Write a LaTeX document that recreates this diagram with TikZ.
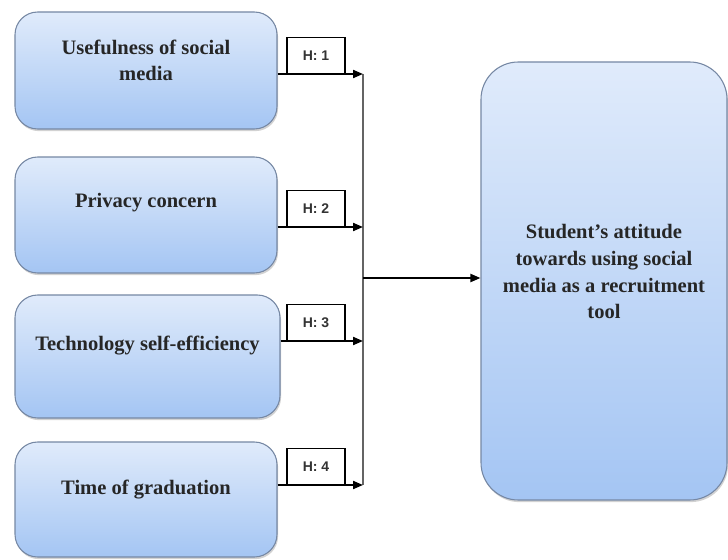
\documentclass[tikz,border=0pt]{standalone}
\usepackage{fontspec}
\setmainfont{Liberation Serif}
\newfontfamily\hfont{Liberation Sans}
\usetikzlibrary{arrows.meta,shadows}

\definecolor{boxtop}{RGB}{224,235,251}
\definecolor{boxbottom}{RGB}{164,197,243}
\definecolor{boxedge}{RGB}{118,136,164}
\definecolor{busgray}{RGB}{100,100,100}

\tikzset{
  factor/.style={draw=boxedge, line width=0.8pt, rounded corners=17pt,
    top color=boxtop, bottom color=boxbottom,
    drop shadow={shadow xshift=0.8pt, shadow yshift=-1.6pt, opacity=0.35, fill=gray},
    inner sep=0pt},
  boxtext/.style={font=\bfseries\fontsize{15.4}{20}\selectfont, align=center, text=black!85},
  hyp/.style={draw=black, line width=0.8pt, fill=white, minimum width=43.5pt,
    minimum height=27pt, inner sep=0pt, anchor=south,
    font=\hfont\bfseries\fontsize{10.5}{12}\selectfont, text=black!80},
  link/.style={line width=1.5pt, -{Triangle[length=7.5pt,width=6pt]}},
  bus/.style={line width=0.9pt, draw=busgray}
}

\begin{document}
\begin{tikzpicture}[x=0.75pt, y=-0.75pt]
\useasboundingbox[fill=white] (0,0) rectangle (728,560);

% independent factors
\node[factor, minimum width=196.5pt, minimum height=87.75pt,
  label={[boxtext, yshift=7.5pt]center:Usefulness of social\\media}] (b1) at (146,70.5) {};
\node[factor, minimum width=196.5pt, minimum height=87pt,
  label={[boxtext, yshift=9pt]center:Privacy concern}] (b2) at (146,215) {};
\node[factor, minimum width=198.75pt, minimum height=92.25pt,
  label={[boxtext, yshift=8pt]center:Technology self-efficiency}] (b3) at (147.5,356.5) {};
\node[factor, minimum width=196.5pt, minimum height=86.25pt,
  label={[boxtext, yshift=7.5pt]center:Time of graduation}] (b4) at (146,499.5) {};

% dependent variable
\node[factor, rounded corners=28pt, minimum width=184.5pt, minimum height=328.5pt,
  label={[boxtext, yshift=7pt]center:Student’s attitude\\towards using social\\media as a recruitment\\tool}] (dv) at (604,281) {};

% junctions on the collecting line
\coordinate (j1) at (363,74);
\coordinate (j2) at (363,227);
\coordinate (j3) at (363,341);
\coordinate (j4) at (363,485);
\coordinate (jm) at (363,278);

% collecting line and output arrow
\draw[bus] (j1) -- (j4);
\draw[link] (jm) -- (dv.west |- jm);

% hypothesis arrows
\draw[link] (b1.east |- j1) -- (j1);
\draw[link] (b2.east |- j2) -- (j2);
\draw[link] (b3.east |- j3) -- (j3);
\draw[link] (b4.east |- j4) -- (j4);

% hypothesis labels resting on the arrows
\node[hyp] (h1) at (316,74) {H: 1};
\node[hyp] (h2) at (316,227) {H: 2};
\node[hyp] (h3) at (316,341) {H: 3};
\node[hyp] (h4) at (316,485) {H: 4};
\end{tikzpicture}
\end{document}
